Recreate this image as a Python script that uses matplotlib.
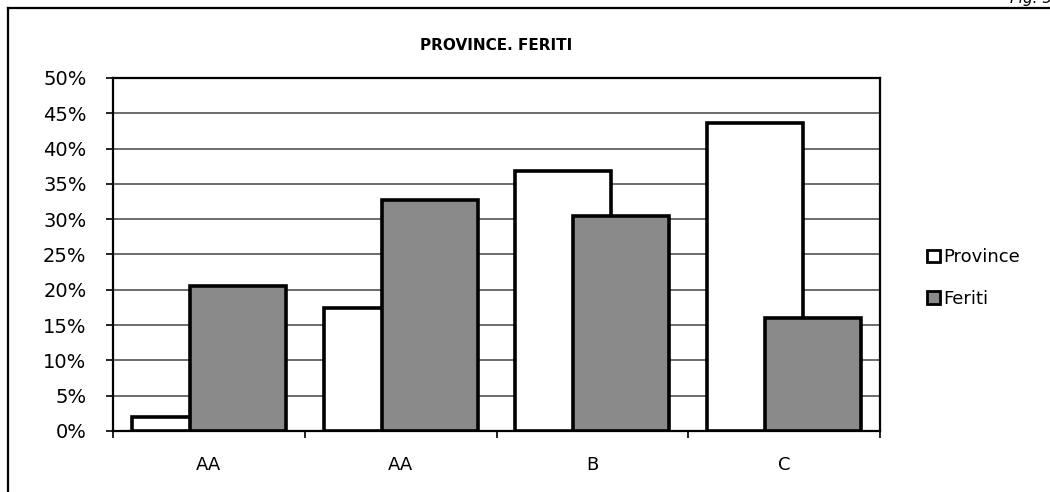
import matplotlib
matplotlib.use("Agg")
import matplotlib.pyplot as plt
import numpy as np
from matplotlib.patches import Rectangle
from matplotlib.lines import Line2D

categories = ["AA", "AA", "B", "C"]
province = [2.0, 17.4, 36.8, 43.6]
feriti = [20.5, 32.7, 30.5, 16.0]
yticks = [0, 5, 10, 15, 20, 25, 30, 35, 40, 45, 50]
title = "PROVINCE. FERITI"

plt.rcParams['font.family'] = ['DejaVu Sans']

W, H = 1050, 492
fig = plt.figure(figsize=(W / 100, H / 100), dpi=100)
ax = fig.add_axes([113 / W, 1 - 431 / H, (880 - 113) / W, (431 - 78) / H])

x = np.arange(len(categories))
bw = 0.5
off = 0.151
ax.bar(x - off, province, width=bw, color="white", edgecolor="black", linewidth=2.6, zorder=3)
ax.bar(x + off, feriti, width=bw, color="#8a8a8a", edgecolor="black", linewidth=2.6, zorder=4)

ax.set_xlim(-0.5, len(categories) - 0.5)
ax.set_ylim(0, 50)
ax.set_yticks(yticks)
ax.set_yticklabels([f"{v}%" for v in yticks], fontsize=14)
ax.set_xticks(np.arange(len(categories) + 1) - 0.5)
ax.set_xticklabels([])
ax.set_xticks(x, minor=True)
ax.set_xticklabels(categories, minor=True, fontsize=13)
ax.tick_params(axis='x', which='minor', length=0, pad=18)
ax.tick_params(axis='x', which='major', length=5, width=1.2, direction='out')
ax.tick_params(axis='y', length=5, width=1.2, direction='out', pad=14)
ax.yaxis.grid(True, color="#444444", linewidth=1.1, zorder=0)
ax.set_axisbelow(True)
for s in ax.spines.values():
    s.set_linewidth(1.6)
    s.set_color("black")

fig.text((113 + 880) / 2 / W, 1 - 45 / H, title, ha="center", va="center",
         fontsize=11, fontweight="bold")

# legend
handles = [Rectangle((0, 0), 1, 1, facecolor="white", edgecolor="black", linewidth=2),
           Rectangle((0, 0), 1, 1, facecolor="#8a8a8a", edgecolor="black", linewidth=2)]
leg = fig.legend(handles, ["Province", "Feriti"], loc="center left",
                 bbox_to_anchor=(911 / W, 1 - 278 / H), frameon=False,
                 fontsize=13, handlelength=0.7, handleheight=0.7,
                 handletextpad=0.2, labelspacing=1.3)

# outer frame
fig.add_artist(Line2D([8 / W, 8 / W], [0, 1 - 8 / H], color="black", linewidth=1.6,
                      transform=fig.transFigure))
fig.add_artist(Line2D([8 / W, 1], [1 - 8 / H, 1 - 8 / H], color="black", linewidth=1.6,
                      transform=fig.transFigure))
fig.text(1052 / W, 1 - 3 / H, "Fig. 5", ha="right", va="baseline", fontsize=11,
         style="italic")

fig.savefig("out.png", dpi=100)
